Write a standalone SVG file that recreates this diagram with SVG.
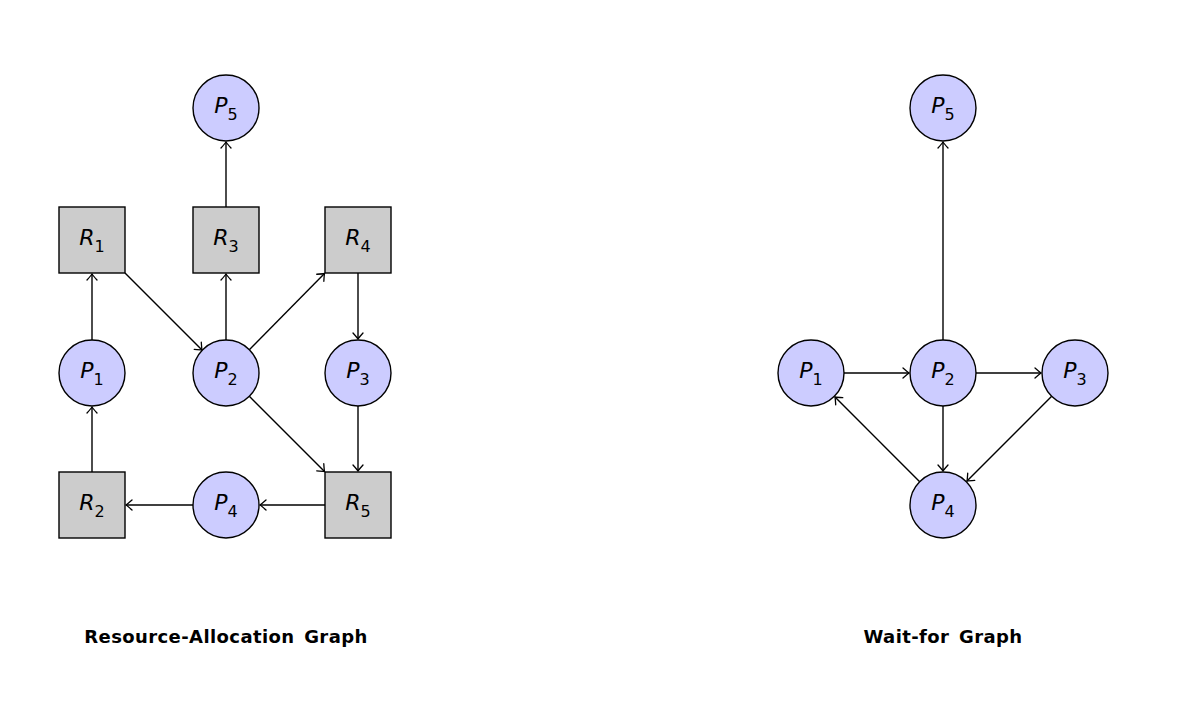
<svg xmlns="http://www.w3.org/2000/svg" width="1192" height="710" viewBox="0 0 1192 710">
<defs>
<marker id="arr" markerUnits="userSpaceOnUse" markerWidth="14" markerHeight="14" viewBox="-10 -7 12 14" refX="0" refY="0" orient="auto">
<path d="M-6,-5 Q-1.5,-1 0,0 Q-1.5,1 -6,5" fill="none" stroke="#000" stroke-width="1.3" stroke-linecap="round"/>
</marker>
<style>
.p{fill:#ccccff;stroke:#000;stroke-width:1.4}
.r{fill:#cccccc;stroke:#000;stroke-width:1.4}
.e{stroke:#000;stroke-width:1.4;fill:none;marker-end:url(#arr)}
.l{font-family:"DejaVu Sans","Liberation Sans",sans-serif;font-size:22px;text-anchor:middle;fill:#000}
.l .v{font-style:italic}
.l .s{font-size:16px}
.t{font-family:"DejaVu Sans","Liberation Sans",sans-serif;font-size:18px;font-weight:bold;text-anchor:middle;fill:#000;letter-spacing:0.4px;word-spacing:3px}
</style>
</defs>
<rect width="1192" height="710" fill="#fff"/>
<g id="connectors">
<line class="e" x1="92" y1="340" x2="92" y2="274"/>
<line class="e" x1="125" y1="273" x2="202" y2="350"/>
<line class="e" x1="226" y1="340" x2="226" y2="274"/>
<line class="e" x1="226" y1="207" x2="226" y2="142"/>
<line class="e" x1="249.3" y1="349.7" x2="324.5" y2="273.5"/>
<line class="e" x1="358" y1="273" x2="358" y2="339"/>
<line class="e" x1="249.3" y1="396.3" x2="324.5" y2="471.5"/>
<line class="e" x1="358" y1="406" x2="358" y2="471"/>
<line class="e" x1="325" y1="505" x2="260" y2="505"/>
<line class="e" x1="193" y1="505" x2="126" y2="505"/>
<line class="e" x1="92" y1="472" x2="92" y2="407"/>
<line class="e" x1="844" y1="373" x2="909" y2="373"/>
<line class="e" x1="976" y1="373" x2="1041" y2="373"/>
<line class="e" x1="943" y1="406" x2="943" y2="471"/>
<line class="e" x1="1051.7" y1="396.3" x2="967" y2="481"/>
<line class="e" x1="919.7" y1="481.7" x2="835" y2="397"/>
<line class="e" x1="943" y1="340" x2="943" y2="142"/>
</g>
<g id="L-P5"><circle class="p" cx="226" cy="108" r="33"/><text class="l" x="226" y="113"><tspan class="v">P</tspan><tspan class="s" dy="7">5</tspan></text></g>
<g id="L-R1"><rect class="r" x="59" y="207" width="66" height="66"/><text class="l" x="92" y="245"><tspan class="v">R</tspan><tspan class="s" dy="7">1</tspan></text></g>
<g id="L-R3"><rect class="r" x="193" y="207" width="66" height="66"/><text class="l" x="226" y="245"><tspan class="v">R</tspan><tspan class="s" dy="7">3</tspan></text></g>
<g id="L-R4"><rect class="r" x="325" y="207" width="66" height="66"/><text class="l" x="358" y="245"><tspan class="v">R</tspan><tspan class="s" dy="7">4</tspan></text></g>
<g id="L-P1"><circle class="p" cx="92" cy="373" r="33"/><text class="l" x="92" y="378"><tspan class="v">P</tspan><tspan class="s" dy="7">1</tspan></text></g>
<g id="L-P2"><circle class="p" cx="226" cy="373" r="33"/><text class="l" x="226" y="378"><tspan class="v">P</tspan><tspan class="s" dy="7">2</tspan></text></g>
<g id="L-P3"><circle class="p" cx="358" cy="373" r="33"/><text class="l" x="358" y="378"><tspan class="v">P</tspan><tspan class="s" dy="7">3</tspan></text></g>
<g id="L-R2"><rect class="r" x="59" y="472" width="66" height="66"/><text class="l" x="92" y="510"><tspan class="v">R</tspan><tspan class="s" dy="7">2</tspan></text></g>
<g id="L-P4"><circle class="p" cx="226" cy="505" r="33"/><text class="l" x="226" y="510"><tspan class="v">P</tspan><tspan class="s" dy="7">4</tspan></text></g>
<g id="L-R5"><rect class="r" x="325" y="472" width="66" height="66"/><text class="l" x="358" y="510"><tspan class="v">R</tspan><tspan class="s" dy="7">5</tspan></text></g>
<g id="W-P5"><circle class="p" cx="943" cy="108" r="33"/><text class="l" x="943" y="113"><tspan class="v">P</tspan><tspan class="s" dy="7">5</tspan></text></g>
<g id="W-P1"><circle class="p" cx="811" cy="373" r="33"/><text class="l" x="811" y="378"><tspan class="v">P</tspan><tspan class="s" dy="7">1</tspan></text></g>
<g id="W-P2"><circle class="p" cx="943" cy="373" r="33"/><text class="l" x="943" y="378"><tspan class="v">P</tspan><tspan class="s" dy="7">2</tspan></text></g>
<g id="W-P3"><circle class="p" cx="1075" cy="373" r="33"/><text class="l" x="1075" y="378"><tspan class="v">P</tspan><tspan class="s" dy="7">3</tspan></text></g>
<g id="W-P4"><circle class="p" cx="943" cy="505" r="33"/><text class="l" x="943" y="510"><tspan class="v">P</tspan><tspan class="s" dy="7">4</tspan></text></g>
<g id="titles">
<text class="t" x="226" y="643">Resource-Allocation Graph</text>
<text class="t" x="943" y="643">Wait-for Graph</text>
</g>
</svg>
